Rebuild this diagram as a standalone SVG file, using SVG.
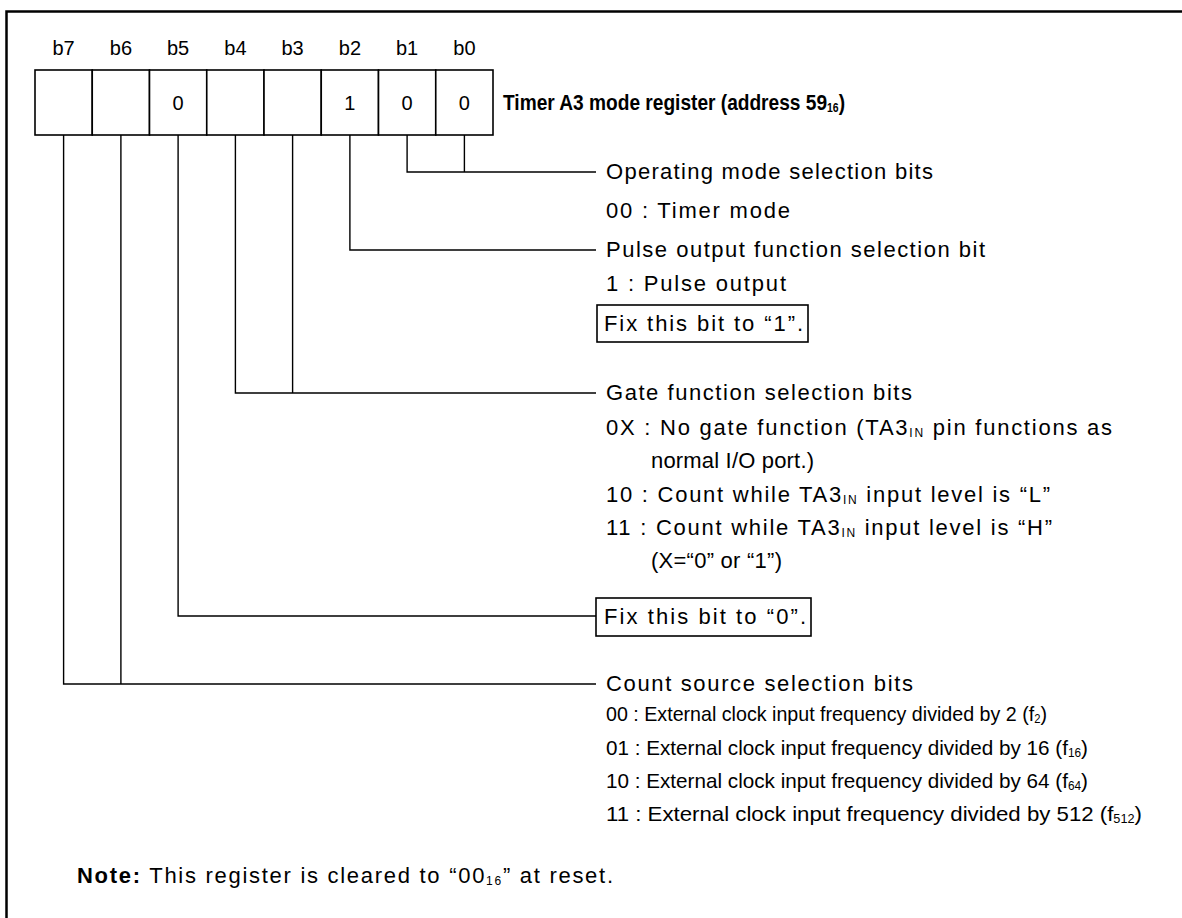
<svg xmlns="http://www.w3.org/2000/svg" width="1182" height="918" viewBox="0 0 1182 918">
<style>
.t{font-family:"Liberation Sans",Arial,Helvetica,sans-serif;font-size:22px;fill:#000}
.lbl{font-size:20px}
.bold{font-weight:bold}
.mid{text-anchor:middle}
.sub{font-size:12px}
.cnd{font-size:21px}
.ln{fill:none;stroke:#000;stroke-width:1.4}
.cell{fill:#fff;stroke:#000;stroke-width:1.6}
.box{fill:#fff;stroke:#000;stroke-width:1.6}
</style>
<rect width="1182" height="918" fill="#fff"/>
<path d="M6.5,918 V11.5 H1182" fill="none" stroke="#000" stroke-width="2.5"/>

<g id="register">
  <rect class="cell" x="35" y="70" width="57.25" height="65"/>
  <rect class="cell" x="92.25" y="70" width="57.25" height="65"/>
  <rect class="cell" x="149.5" y="70" width="57.25" height="65"/>
  <rect class="cell" x="206.75" y="70" width="57.25" height="65"/>
  <rect class="cell" x="264" y="70" width="57.25" height="65"/>
  <rect class="cell" x="321.25" y="70" width="57.25" height="65"/>
  <rect class="cell" x="378.5" y="70" width="57.25" height="65"/>
  <rect class="cell" x="435.75" y="70" width="57.25" height="65"/>
  <text class="t lbl mid" x="63.6" y="55">b7</text>
  <text class="t lbl mid" x="120.9" y="55">b6</text>
  <text class="t lbl mid" x="178.1" y="55">b5</text>
  <text class="t lbl mid" x="235.4" y="55">b4</text>
  <text class="t lbl mid" x="292.6" y="55">b3</text>
  <text class="t lbl mid" x="349.9" y="55">b2</text>
  <text class="t lbl mid" x="407.1" y="55">b1</text>
  <text class="t lbl mid" x="464.4" y="55">b0</text>
  <text class="t lbl mid" x="178.1" y="110">0</text>
  <text class="t lbl mid" x="349.9" y="110">1</text>
  <text class="t lbl mid" x="407.1" y="110">0</text>
  <text class="t lbl mid" x="464.4" y="110">0</text>
</g>

<g id="title">
  <text class="t bold" x="503" y="110" font-size="18" textLength="342" lengthAdjust="spacingAndGlyphs">Timer A3 mode register (address 59<tspan class="sub" baseline-shift="-2">16</tspan>)</text>
</g>

<g id="connectors">
  <path class="ln" d="M407.1,135 V172 H596 M464.4,135 V172"/>
  <path class="ln" d="M349.9,135 V250 H596"/>
  <path class="ln" d="M235.4,135 V393 H596 M292.6,135 V393"/>
  <path class="ln" d="M178.1,135 V616 H596"/>
  <path class="ln" d="M63.6,135 V684 H596 M120.9,135 V684"/>
</g>

<g id="op-mode">
  <text class="t" x="606" y="179" textLength="327" lengthAdjust="spacing">Operating mode selection bits</text>
  <text class="t" x="606" y="218" textLength="184" lengthAdjust="spacing">00 : Timer mode</text>
</g>

<g id="pulse">
  <text class="t" x="606" y="257" textLength="379" lengthAdjust="spacing">Pulse output function selection bit</text>
  <text class="t" x="606" y="291" textLength="180" lengthAdjust="spacing">1 : Pulse output</text>
  <rect class="box" x="597" y="305" width="211" height="37"/>
  <text class="t" x="604" y="331" textLength="199" lengthAdjust="spacing">Fix this bit to “1”.</text>
</g>

<g id="gate">
  <text class="t" x="606" y="400" textLength="306" lengthAdjust="spacing">Gate function selection bits</text>
  <text class="t" x="606" y="435" textLength="506" lengthAdjust="spacing">0X : No gate function (TA3<tspan class="sub" baseline-shift="-2">IN</tspan> pin functions as</text>
  <text class="t" x="651" y="468" textLength="163" lengthAdjust="spacing">normal I/O port.)</text>
  <text class="t" x="606" y="502" textLength="444" lengthAdjust="spacing">10 : Count while TA3<tspan class="sub" baseline-shift="-2">IN</tspan> input level is “L”</text>
  <text class="t" x="606" y="535" textLength="446" lengthAdjust="spacing">11 : Count while TA3<tspan class="sub" baseline-shift="-2">IN</tspan> input level is “H”</text>
  <text class="t" x="651" y="568" textLength="131" lengthAdjust="spacing">(X=“0” or “1”)</text>
</g>

<g id="b5-fix">
  <rect class="box" x="596" y="598" width="215" height="38"/>
  <text class="t" x="604" y="624" textLength="202" lengthAdjust="spacing">Fix this bit to “0”.</text>
</g>

<g id="count-source">
  <text class="t" x="606" y="691" textLength="307" lengthAdjust="spacing">Count source selection bits</text>
  <text class="t cnd" x="606" y="721" textLength="441" lengthAdjust="spacingAndGlyphs">00 : External clock input frequency divided by 2 (f<tspan class="sub" baseline-shift="-2">2</tspan>)</text>
  <text class="t cnd" x="606" y="755" textLength="482" lengthAdjust="spacingAndGlyphs">01 : External clock input frequency divided by 16 (f<tspan class="sub" baseline-shift="-2">16</tspan>)</text>
  <text class="t cnd" x="606" y="788" textLength="482" lengthAdjust="spacingAndGlyphs">10 : External clock input frequency divided by 64 (f<tspan class="sub" baseline-shift="-2">64</tspan>)</text>
  <text class="t cnd" x="606" y="821" textLength="536" lengthAdjust="spacingAndGlyphs">11 : External clock input frequency divided by 512 (f<tspan class="sub" baseline-shift="-2">512</tspan>)</text>
</g>

<g id="note">
  <text class="t" x="77" y="883" textLength="536" lengthAdjust="spacing"><tspan class="bold">Note:</tspan> This register is cleared to “00<tspan class="sub" baseline-shift="-2">16</tspan>” at reset.</text>
</g>
</svg>
